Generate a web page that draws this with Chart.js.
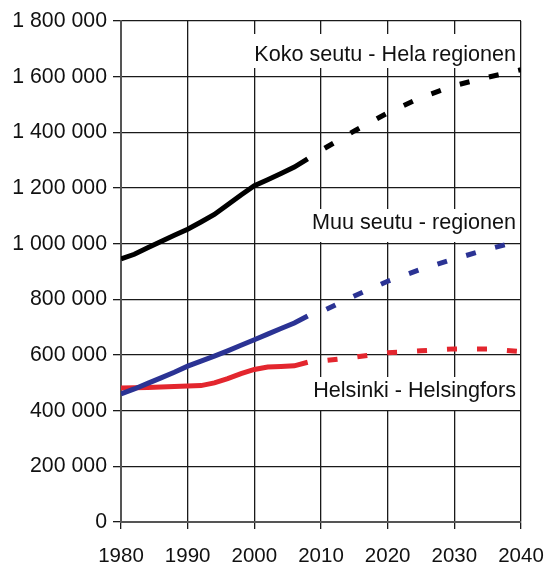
<!DOCTYPE html>
<html>
<head>
<meta charset="utf-8">
<script src="https://cdn.jsdelivr.net/npm/chart.js@4.4.1/dist/chart.umd.min.js"></script>
<style>
  html, body { margin: 0; padding: 0; background: #fff; }
  #wrap { width: 548px; height: 564px; }
</style>
</head>
<body>
<div id="wrap"><canvas id="popChart" width="548" height="564"></canvas></div>
<script>
// observed population, 1980-2008
const histYears = [1980, 1982, 1984, 1986, 1988, 1990, 1992, 1994, 1996, 1998, 2000, 2002, 2004, 2006, 2008];
const kokoHist = [945000, 962000, 985000, 1008000, 1030000, 1052000, 1078000, 1105000, 1140000, 1175000, 1208000, 1230000, 1252000, 1275000, 1305000];
const muuHist = [460000, 478000, 498000, 518000, 538000, 560000, 578000, 596000, 615000, 635000, 655000, 675000, 695000, 715000, 740000];
const hkiHist = [481000, 482000, 483000, 485000, 487000, 489000, 490000, 500000, 515000, 533000, 548000, 557000, 559000, 561000, 574000];

// projections, 2008-2040
const projYears = [2008, 2010, 2015, 2020, 2025, 2030, 2035, 2040];
const kokoProj = [1305000, 1335000, 1405000, 1470000, 1525000, 1568000, 1598000, 1625000];
const muuProj = [740000, 755000, 812000, 865000, 908000, 945000, 980000, 1010000];
const hkiProj = [574000, 578000, 592000, 608000, 615000, 622000, 622000, 612000];

const yTicks = [0, 200000, 400000, 600000, 800000, 1000000, 1200000, 1400000, 1600000, 1800000];
const xTicks = [1980, 1990, 2000, 2010, 2020, 2030, 2040];

const seriesLabels = ['Koko seutu - Hela regionen', 'Muu seutu - regionen', 'Helsinki - Helsingfors'];

const BLACK = '#000000';
const BLUE = '#2b3394';
const RED = '#e3262e';
const FONT = 'Arial, "Liberation Sans", sans-serif';

const toPts = (xs, ys) => xs.map((x, i) => ({ x: x, y: ys[i] }));

const solid = (data, color) => ({
    data: data,
    borderColor: color,
    borderWidth: 5,
    pointRadius: 0,
    tension: 0,
    borderCapStyle: 'butt'
});
const dashed = (data, color) => ({
    data: data,
    borderColor: color,
    borderWidth: 5,
    pointRadius: 0,
    tension: 0,
    borderDash: [10, 20],
    borderDashOffset: 10,
    borderCapStyle: 'butt'
});

// white-boxed text labels inside the plot
const seriesNames = {
    id: 'seriesNames',
    beforeDatasetsDraw(chart) {
        const ctx = chart.ctx;
        const spots = [
            { text: seriesLabels[0], base: 61, top: 34, bottom: 68 },
            { text: seriesLabels[1], base: 229, top: 209, bottom: 242 },
            { text: seriesLabels[2], base: 397, top: 377, bottom: 410 }
        ];
        const right = 516;
        ctx.save();
        ctx.font = '21.6px ' + FONT;
        ctx.textAlign = 'right';
        ctx.textBaseline = 'alphabetic';
        spots.forEach(s => {
            const w = ctx.measureText(s.text).width;
            ctx.fillStyle = '#ffffff';
            ctx.fillRect(right - w - 3, s.top, w + 5, s.bottom - s.top);
            ctx.fillStyle = '#111111';
            ctx.fillText(s.text, right, s.base);
        });
        ctx.restore();
    }
};

const ctx = document.getElementById('popChart').getContext('2d');
new Chart(ctx, {
    type: 'line',
    data: {
        datasets: [
            solid(toPts(histYears, kokoHist), BLACK),
            dashed(toPts(projYears, kokoProj), BLACK),
            solid(toPts(histYears, muuHist), BLUE),
            dashed(toPts(projYears, muuProj), BLUE),
            solid(toPts(histYears, hkiHist), RED),
            dashed(toPts(projYears, hkiProj), RED)
        ]
    },
    options: {
        responsive: false,
        animation: false,
        devicePixelRatio: 1,
        layout: { padding: { top: 21, right: 27, left: 0, bottom: 0 } },
        plugins: {
            legend: { display: false },
            tooltip: { enabled: false }
        },
        scales: {
            x: {
                type: 'linear',
                min: 1980,
                max: 2040,
                afterBuildTicks: s => { s.ticks = xTicks.map(v => ({ value: v })); },
                afterFit: s => { s.height = 42; s.paddingLeft = 0; s.paddingRight = 0; },
                ticks: {
                    color: '#111',
                    font: { family: FONT, size: 20.5 },
                    padding: 15,
                    maxRotation: 0,
                    callback: v => String(v)
                },
                grid: { color: '#1a1a1a', lineWidth: 1.3, tickLength: 7 },
                border: { color: '#555', width: 2 }
            },
            y: {
                min: 0,
                max: 1800000,
                afterBuildTicks: s => { s.ticks = yTicks.map(v => ({ value: v })); },
                afterFit: s => { s.width = 121; s.paddingTop = 0; s.paddingBottom = 0; },
                ticks: {
                    color: '#111',
                    font: { family: FONT, size: 21.3 },
                    padding: 6,
                    callback: v => String(v).replace(/\B(?=(\d{3})+(?!\d))/g, ' ')
                },
                grid: { color: '#1a1a1a', lineWidth: 1.3, tickLength: 8 },
                border: { color: '#555', width: 2 }
            }
        }
    },
    plugins: [seriesNames]
});
</script>
</body>
</html>
